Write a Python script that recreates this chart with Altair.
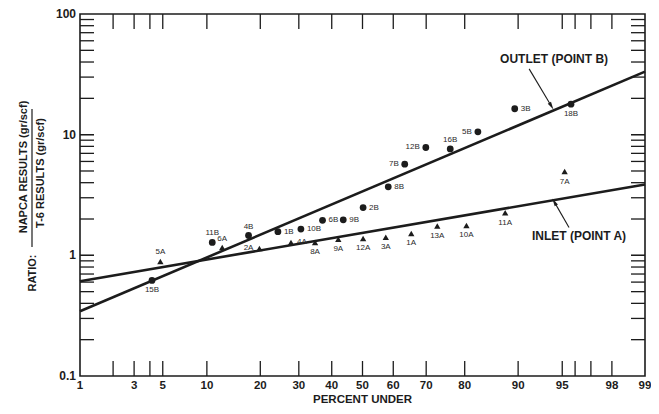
import altair as alt
import pandas as pd
from statistics import NormalDist

ND = NormalDist()


def zq(p):
    return ND.inv_cdf(p / 100.0)


# ---------------- data ----------------
A_labels = ["5A", "6A", "2A", "4A", "8A", "9A", "12A", "3A", "1A", "13A", "10A", "11A", "7A"]
A_pct = [4.8, 12.4, 19.8, 27.8, 34.8, 42.1, 50.2, 57.6, 65.6, 73.1, 80.4, 88.0, 95.2]
A_ratio = [0.89, 1.16, 1.14, 1.28, 1.28, 1.36, 1.38, 1.41, 1.52, 1.75, 1.77, 2.25, 4.95]
A_side = ["above", "above", "left", "right", "below", "below", "below", "below",
          "below", "below", "below", "below", "below"]

B_labels = ["15B", "11B", "4B", "1B", "10B", "6B", "9B", "2B", "8B", "7B", "12B", "16B", "5B", "3B", "18B"]
B_pct = [4.15, 10.8, 17.4, 24.3, 30.6, 37.1, 43.7, 50.2, 58.4, 63.6, 69.9, 76.5, 82.9, 89.5, 95.7]
B_ratio = [0.62, 1.28, 1.46, 1.57, 1.65, 1.95, 1.97, 2.49, 3.70, 5.69, 7.83, 7.62, 10.55, 16.4, 17.9]
B_side = ["below", "above", "above", "right", "right", "right", "right", "right",
          "right", "left", "left", "above", "left", "right", "below"]

# fitted lines (end values at 1 % and 99 %)
fit_series = ["OUTLET", "OUTLET", "INLET", "INLET"]
fit_pct = [1, 99, 1, 99]
fit_ratio = [0.344, 33.3, 0.61, 3.86]

# axis ticks / labels
x_tick_pct = [2, 3, 4, 5, 10, 20, 30, 40, 50, 60, 70, 80, 90, 95, 96, 97, 98]
x_label_pct = [1, 3, 5, 10, 20, 30, 40, 50, 60, 70, 80, 90, 95, 98, 99]
y_tick_vals = [m * 10 ** k for k in (-1, 0, 1) for m in range(1, 10)][1:] + [10, 1]
y_label_vals = [0.1, 1, 10, 100]
y_label_text = ["0.1", "1", "10", "100"]

# annotations
ann_text = ["OUTLET (POINT B)", "INLET (POINT A)"]
ann_pct = [94.27, 96.27]
ann_ratio = [42.4, 1.435]
arrow_id = ["o", "o", "i", "i"]
arrow_pct = [91.5, 94.0, 95.55, 94.3]
arrow_ratio = [35.1, 17.3, 1.70, 2.76]
head_pct = [94.0, 94.3]
head_ratio = [17.3, 2.76]
head_angle = [149, 330]

# ---------------- frames ----------------
W, H = 565, 362
INK = "#1c1c1c"
FONT = "Liberation Sans"

xs = alt.Scale(domain=[zq(1), zq(99)], nice=False, zero=False)
ys = alt.Scale(type="log", domain=[0.1, 100], nice=False)


def X(f="z"):
    return alt.X(f"{f}:Q", scale=xs, axis=None)


def Y(f="r"):
    return alt.Y(f"{f}:Q", scale=ys, axis=None)


dfA = pd.DataFrame({"lab": A_labels, "z": [zq(p) for p in A_pct], "r": A_ratio, "side": A_side})
dfB = pd.DataFrame({"lab": B_labels, "z": [zq(p) for p in B_pct], "r": B_ratio, "side": B_side})
dfPts = pd.concat([dfA, dfB], ignore_index=True)
dfFit = pd.DataFrame({"s": fit_series, "z": [zq(p) for p in fit_pct], "r": fit_ratio})
dfXT = pd.DataFrame({"z": [zq(p) for p in x_tick_pct]})
dfXL = pd.DataFrame({"z": [zq(p) for p in x_label_pct], "t": [str(p) for p in x_label_pct]})
dfYT = pd.DataFrame({"r": y_tick_vals})
dfYL = pd.DataFrame({"r": y_label_vals, "t": y_label_text})
dfAnn = pd.DataFrame({"t": ann_text, "z": [zq(p) for p in ann_pct], "r": ann_ratio})
dfArr = pd.DataFrame({"id": arrow_id, "z": [zq(p) for p in arrow_pct], "r": arrow_ratio})
dfHead = pd.DataFrame({"z": [zq(p) for p in head_pct], "r": head_ratio, "a": head_angle})

base = alt.Chart(dfPts)

fit = alt.Chart(dfFit).mark_line(color=INK, strokeWidth=2.6).encode(x=X(), y=Y(), detail="s:N")

circles = alt.Chart(dfB).mark_point(shape="circle", filled=True, size=46, color=INK, opacity=1).encode(x=X(), y=Y())
tris = alt.Chart(dfA).mark_point(shape="triangle-up", filled=True, size=40, color=INK, opacity=1).encode(x=X(), y=Y())

lab_style = dict(font=FONT, fontSize=8, fill="#2a2a2a")
lab_above = base.transform_filter("datum.side == 'above'").mark_text(dy=-9, **lab_style).encode(x=X(), y=Y(), text="lab:N")
lab_below = base.transform_filter("datum.side == 'below'").mark_text(dy=10, **lab_style).encode(x=X(), y=Y(), text="lab:N")
lab_left = base.transform_filter("datum.side == 'left'").mark_text(dx=-6, align="right", **lab_style).encode(x=X(), y=Y(), text="lab:N")
lab_right = base.transform_filter("datum.side == 'right'").mark_text(dx=6, align="left", **lab_style).encode(x=X(), y=Y(), text="lab:N")

tick_style = dict(color=INK, strokeWidth=1.3)
xt_bot = alt.Chart(dfXT).mark_rule(**tick_style).encode(x=X(), y=alt.value(H), y2=alt.value(H - 15))
xt_top = alt.Chart(dfXT).mark_rule(**tick_style).encode(x=X(), y=alt.value(0), y2=alt.value(15))
yt_left = alt.Chart(dfYT).mark_rule(**tick_style).encode(y=Y(), x=alt.value(0), x2=alt.value(14))
yt_right = alt.Chart(dfYT).mark_rule(**tick_style).encode(y=Y(), x=alt.value(W), x2=alt.value(W - 14))

xl = alt.Chart(dfXL).mark_text(font=FONT, fontSize=11.5, fontWeight="bold", fill=INK, baseline="middle").encode(
    x=X(), y=alt.value(H + 10), text="t:N")
yl = alt.Chart(dfYL).mark_text(font=FONT, fontSize=12, fontWeight="bold", fill=INK, align="right",
                                baseline="middle", dx=-4).encode(y=Y(), x=alt.value(0), text="t:N")

xtitle = alt.Chart(pd.DataFrame({"t": ["PERCENT UNDER"]})).mark_text(
    font=FONT, fontSize=11.5, fontWeight="bold", fill=INK, baseline="middle").encode(
    x=alt.value(W / 2), y=alt.value(H + 24), text="t:N")

ytitle_df = pd.DataFrame({"t": ["NAPCA RESULTS (gr/scf)", "T-6 RESULTS (gr/scf)", "RATIO:"],
                          "px": [-56, -39, -47], "py": [153, 159, 259]})
ytitle = alt.Chart(ytitle_df).mark_text(font=FONT, fontSize=11, fontWeight="bold", fill=INK, angle=270,
                                        baseline="middle", align="center").encode(
    x=alt.X("px:Q", scale=None), y=alt.Y("py:Q", scale=None), text="t:N")
frac = alt.Chart(pd.DataFrame({"a": [0]})).mark_rule(color=INK, strokeWidth=1.2).encode(
    x=alt.value(-48), y=alt.value(95), y2=alt.value(233))

ann = alt.Chart(dfAnn).mark_text(font=FONT, fontSize=12, fontWeight="bold", fill=INK, baseline="middle").encode(
    x=X(), y=Y(), text="t:N")
arr = alt.Chart(dfArr).mark_line(color=INK, strokeWidth=1.1).encode(x=X(), y=Y(), detail="id:N")
heads = alt.Chart(dfHead).mark_point(shape="M0,-1L0.45,0.9L-0.45,0.9Z", filled=True, size=70, color=INK,
                                     opacity=1).encode(x=X(), y=Y(), angle=alt.Angle("a:Q", scale=None))

chart = alt.layer(
    fit, arr, heads, circles, tris, lab_above, lab_below, lab_left, lab_right,
    xt_bot, xt_top, yt_left, yt_right, xl, yl, xtitle, ytitle, frac, ann
).properties(
    width=W, height=H,
    autosize=alt.AutoSizeParams(type="none"),
    padding={"left": 72, "top": 6, "right": 6, "bottom": 30},
    background="white",
).configure_view(stroke=INK, strokeWidth=1.6)

chart.save("out.html", embed_options={"renderer": "svg", "actions": False})
